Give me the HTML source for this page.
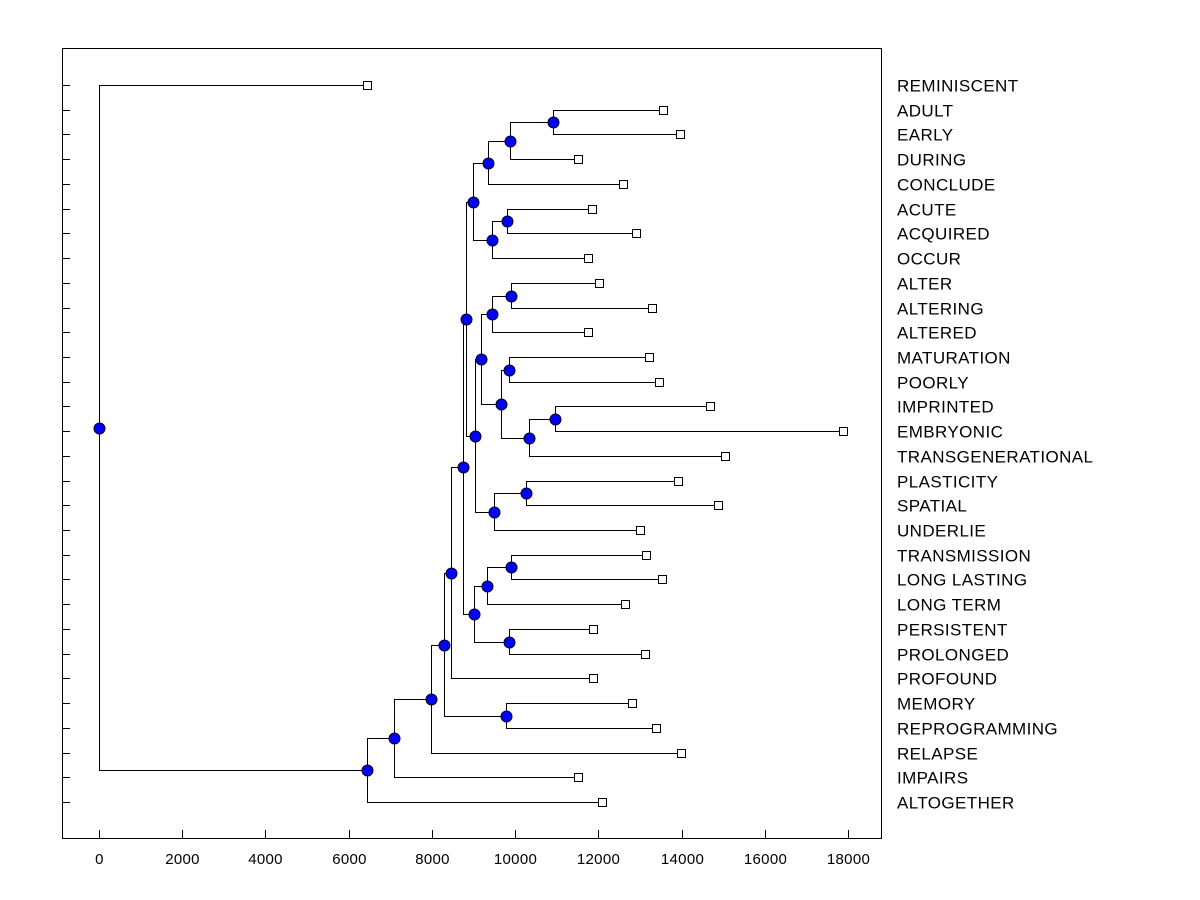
<!DOCTYPE html>
<html><head><meta charset="utf-8"><style>
body{margin:0;background:#fff;width:1200px;height:900px;overflow:hidden}
svg{display:block;font-family:"Liberation Sans",Arial,sans-serif}
</style></head><body>
<svg id="chart" width="1200" height="900" xmlns="http://www.w3.org/2000/svg">
<rect x="62.5" y="48.5" width="819" height="790" fill="none" stroke="#000" stroke-width="1" shape-rendering="crispEdges"/>
<g id="ticks"></g><g id="links"></g><g id="marks"></g><g id="labels"></g>
</svg>
<script>
const leafNames=["REMINISCENT","ADULT","EARLY","DURING","CONCLUDE","ACUTE","ACQUIRED","OCCUR","ALTER","ALTERING","ALTERED","MATURATION","POORLY","IMPRINTED","EMBRYONIC","TRANSGENERATIONAL","PLASTICITY","SPATIAL","UNDERLIE","TRANSMISSION","LONG LASTING","LONG TERM","PERSISTENT","PROLONGED","PROFOUND","MEMORY","REPROGRAMMING","RELAPSE","IMPAIRS","ALTOGETHER"];
const leafValues=[6441,13554,13963,11512,12593,11848,12905,11752,12016,13290,11752,13218,13458,14684,17880,15044,13915,14876,13002,13146,13530,12641,11872,13122,11872,12809,13386,13987,11512,12088];
// merges: [childA, childB, height]; leaves are "L<i>", nodes "N<i>"
const merges=[
["L1","L2",10911],["N0","L3",9877],["N1","L4",9349],
["L5","L6",9805],["N3","L7",9445],["N2","N4",8988],
["L8","L9",9901],["N6","L10",9445],["L11","L12",9853],
["L13","L14",10959],["N9","L15",10334],["N8","N10",9661],
["N7","N11",9180],["L16","L17",10262],["N13","L18",9493],
["N12","N14",9036],["N5","N15",8820],["L19","L20",9901],
["N17","L21",9325],["L22","L23",9853],["N18","N19",9012],
["N16","N20",8748],["N21","L24",8459],["L25","L26",9781],
["N22","N23",8291],["N24","L27",7979],["N25","L28",7090],
["N26","L29",6441],["L0","N27",0]];
const xTicks=[0,2000,4000,6000,8000,10000,12000,14000,16000,18000];

const NS="http://www.w3.org/2000/svg";
const X=v=>Math.round(99+v*0.04161)+0.5;
const rowY=i=>Math.round(85+i*(802-85)/29)+0.5;
function mk(tag,attrs,parent){const e=document.createElementNS(NS,tag);for(const k in attrs)e.setAttribute(k,attrs[k]);document.getElementById(parent).appendChild(e);return e;}
xTicks.forEach(t=>{
 const l=mk('line',{x1:X(t),x2:X(t),y1:838,y2:830,stroke:'#000','shape-rendering':'crispEdges'},'ticks');
 
 
 const tx=mk('text',{x:X(t),y:864,'text-anchor':'middle','font-size':'15','letter-spacing':'0.3'},'ticks');
 tx.textContent=t;
 
 
});
leafNames.forEach((n,i)=>{
 const l=mk('line',{x1:62,x2:70,y1:rowY(i),y2:rowY(i),stroke:'#000','shape-rendering':'crispEdges'},'ticks');
 
 
 const tx=mk('text',{x:897,y:rowY(i)+6,'font-size':'17','letter-spacing':'0.4'},'labels');
 tx.textContent=n;
 
 
});
const pos={};
leafNames.forEach((n,i)=>{pos['L'+i]={x:X(leafValues[i]),y:rowY(i)};});
merges.forEach((m,i)=>{
 const a=pos[m[0]],b=pos[m[1]],x=X(m[2]),y=Math.round((a.y+b.y)/2-0.5)+0.5;
 pos['N'+i]={x:x,y:y};
 const p=mk('path',{d:`M${a.x},${a.y}H${x}V${b.y}H${b.x}`,fill:'none',stroke:'#000','stroke-width':1,'shape-rendering':'crispEdges'},'links');
 
 
});
leafNames.forEach((n,i)=>{
 const p=pos['L'+i];
 const r=mk('rect',{x:p.x-4,y:p.y-4,width:8,height:8,fill:'#fff',stroke:'#000','shape-rendering':'crispEdges'},'marks');
 
 
});
merges.forEach((m,i)=>{
 const p=pos['N'+i];
 const c=mk('circle',{cx:p.x,cy:p.y,r:5.5,fill:'#0000ff',stroke:'#000020','stroke-width':1},'marks');
 
 
});
</script>
</body></html>
